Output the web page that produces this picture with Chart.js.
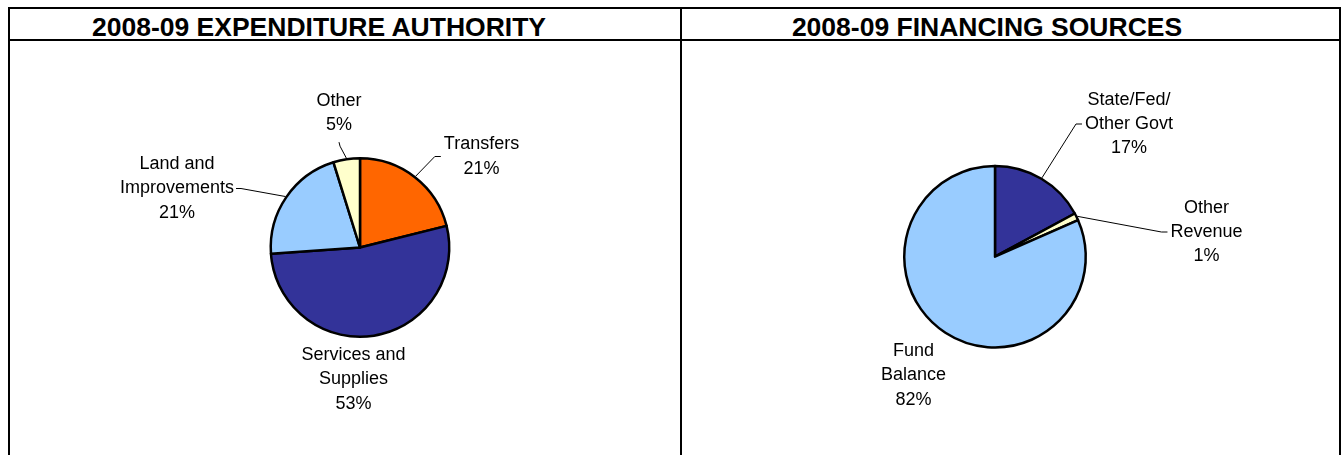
<!DOCTYPE html>
<html>
<head>
<meta charset="utf-8">
<script src="https://cdn.jsdelivr.net/npm/chart.js@4/dist/chart.umd.min.js"></script>
<style>
  html, body { margin: 0; padding: 0; background: #fff; width: 1342px; height: 455px; overflow: hidden; }
  .frame { position: absolute; left: 8px; top: 7px; width: 1333px; height: 520px; box-sizing: border-box; border: 2px solid #000; }
  .hline { position: absolute; left: 8px; top: 39px; width: 1333px; height: 2px; background: #000; }
  .vline { position: absolute; left: 680px; top: 7px; width: 2px; height: 520px; background: #000; }
  .title { position: absolute; top: 14px; font: bold 26.5px "Liberation Sans", Arial, sans-serif; line-height: 1; white-space: nowrap; transform: translateX(-50%); color: #000; }
  canvas { position: absolute; }
</style>
</head>
<body>
<div class="frame"></div>
<div class="hline"></div>
<div class="vline"></div>
<div class="title" style="left:319px">2008-09 EXPENDITURE AUTHORITY</div>
<div class="title" style="left:987px">2008-09 FINANCING SOURCES</div>
<canvas id="c1" width="670" height="414" style="left:10px; top:41px"></canvas>
<canvas id="c2" width="657" height="414" style="left:682px; top:41px"></canvas>
<script>
// ---- data ----
const expCategories = ['Transfers', 'Services and\nSupplies', 'Land and\nImprovements', 'Other'];
const expValues = [21.1, 52.8, 21.3, 4.8];
const expColors = ['#FF6600', '#333399', '#99CCFF', '#FFFFCC'];

const finCategories = ['State/Fed/\nOther Govt', 'Other\nRevenue', 'Fund\nBalance'];
const finValues = [17.1, 1.3, 81.6];
const finColors = ['#333399', '#FFFFCC', '#99CCFF'];

// ---- layout (positions of pie and labels) ----
const expLayout = { cx: 350, cy: 206.5, r: 90.5,
  labels: [ {dx: 121.5, dy: -91, side: 'left'},
            {dx: -6.5, dy: 132, side: 'none'},
            {dx: -183, dy: -59, side: 'right'},
            {dx: -21, dy: -134.5, side: 'bottom'} ] };
const finLayout = { cx: 313, cy: 215.7, r: 92,
  labels: [ {dx: 134, dy: -132.7, side: 'left'},
            {dx: 211.5, dy: -24.7, side: 'left'},
            {dx: -81.5, dy: 118.8, side: 'none'} ] };

const LABEL_FONT = '18px "Liberation Sans", Arial, sans-serif';
const LINE_H = 24.3;

const labelPlugin = {
  id: 'pieLabels',
  afterDraw(chart, args, opts) {
    const ctx = chart.ctx;
    const meta = chart.getDatasetMeta(0);
    const values = chart.data.datasets[0].data;
    const total = values.reduce((a, b) => a + b, 0);
    const layout = opts.layout;
    ctx.save();
    ctx.font = LABEL_FONT;
    ctx.fillStyle = '#000';
    ctx.textAlign = 'center';
    ctx.textBaseline = 'middle';
    meta.data.forEach((arc, i) => {
      const L = layout.labels[i];
      const lines = chart.data.labels[i].split('\n').concat([Math.round(values[i] / total * 100) + '%']);
      const cx = arc.x + L.dx, cy = arc.y + L.dy;
      const top = cy - (lines.length - 1) * LINE_H / 2;
      let w = 0;
      lines.forEach((t, k) => {
        ctx.fillText(t, cx, top + k * LINE_H);
        w = Math.max(w, ctx.measureText(t).width);
      });
      // leader line
      const a = (arc.startAngle + arc.endAngle) / 2;
      const R = arc.outerRadius + 1;
      const px = arc.x + Math.cos(a) * R, py = arc.y + Math.sin(a) * R;
      let sx, sy, tx, ty;
      if (L.side === 'left') { sx = cx - w / 2 - 3; sy = cy; tx = sx - 6; ty = sy; }
      else if (L.side === 'right') { sx = cx + w / 2 + 2; sy = cy; tx = sx + 5; ty = sy; }
      else if (L.side === 'bottom') { sx = cx; sy = top + (lines.length - 1) * LINE_H + 17; tx = sx + 1; ty = sy + 4; }
      else return;
      ctx.strokeStyle = '#000';
      ctx.lineWidth = 1;
      ctx.beginPath();
      ctx.moveTo(sx, sy);
      ctx.lineTo(tx, ty);
      ctx.lineTo(px, py);
      ctx.stroke();
    });
    ctx.restore();
  }
};

function makePie(id, cats, vals, cols, layout) {
  const canvas = document.getElementById(id);
  const W = canvas.width, H = canvas.height;
  new Chart(canvas, {
    type: 'pie',
    data: {
      labels: cats,
      datasets: [{ data: vals, backgroundColor: cols, borderColor: '#000', borderWidth: 2.5, borderJoinStyle: 'round' }]
    },
    options: {
      responsive: false,
      animation: false,
      devicePixelRatio: 1,
      rotation: 0,
      layout: { padding: { left: layout.cx - layout.r, right: W - layout.cx - layout.r,
                           top: layout.cy - layout.r, bottom: H - layout.cy - layout.r } },
      plugins: { legend: { display: false }, tooltip: { enabled: false }, pieLabels: { layout: layout } }
    },
    plugins: [labelPlugin]
  });
}

makePie('c1', expCategories, expValues, expColors, expLayout);
makePie('c2', finCategories, finValues, finColors, finLayout);
</script>
</body>
</html>
